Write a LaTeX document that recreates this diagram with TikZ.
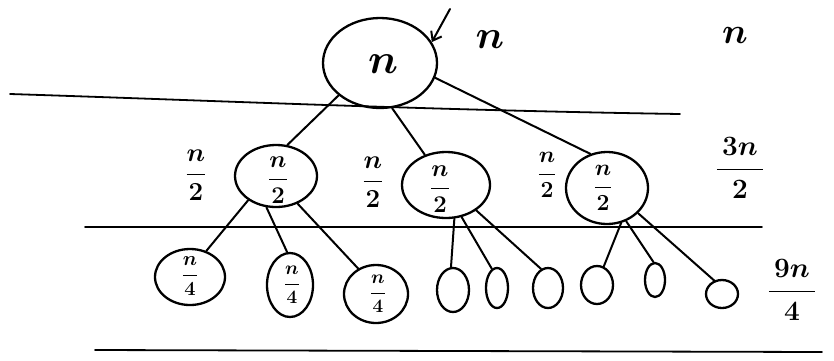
\RequirePackage{fix-cm}
\documentclass[tikz,border=0pt]{standalone}
\usepackage{amsmath,bm}
\usetikzlibrary{shapes.geometric,arrows.meta}
\tikzset{
  hand/.style={line width=2.3pt, line cap=round, line join=round},
  blob/.style={draw, ellipse, hand, inner sep=0pt},
  lbl/.style={inner sep=0pt},
  link/.style={line width=2pt, line cap=round},
  rule/.style={line width=1.8pt, line cap=round}
}
\newcommand{\bign}[1]{\fontsize{#1}{#1}\selectfont$\bm{n}$}
\newcommand{\hfr}[3]{\fontsize{#1}{#1}\selectfont$\displaystyle\bm{\frac{#2}{#3}}$}
\begin{document}
\begin{tikzpicture}[x=1pt,y=-1pt]
\useasboundingbox (0,0) rectangle (834,360);
% level rules
\draw[rule] (10,94) .. controls (200,100) and (420,110) .. (680,114);
\draw[rule] (85,227) -- (762,227);
\draw[rule] (95,350) -- (822,352);
% root
\node[blob, minimum width=114pt, minimum height=90pt] (root) at (380,63) {};
\node[lbl] (rootlbl) at (383,64) {\bign{42}};
\coordinate (tail) at (450,9);
\draw[link, -{Straight Barb[length=8pt,width=12pt]}] (tail) -- (root.22);
\node[lbl] (cost0) at (490,40) {\bign{40}};
\node[lbl] (sum0) at (735,35) {\bign{36}};
% level 2
\node[blob, minimum width=82pt, minimum height=62pt] (A) at (276,176) {};
\node[blob, minimum width=88pt, minimum height=66pt] (B) at (446,185) {};
\node[blob, minimum width=82pt, minimum height=72pt] (C) at (607,188) {};
\node[lbl] (Alb) at (278,180) {\hfr{24}{n}{2}};
\node[lbl] (Blb) at (440,189) {\hfr{24}{n}{2}};
\node[lbl] (Clb) at (603,188) {\hfr{23}{n}{2}};
\node[lbl] (Acost) at (196,175) {\hfr{26}{n}{2}};
\node[lbl] (Bcost) at (373,182) {\hfr{26}{n}{2}};
\node[lbl] (Ccost) at (547,175) {\hfr{23}{n}{2}};
\node[lbl] (sum1) at (740,168) {\hfr{28}{\,3n\,}{2}};
\draw[link] (root.218) -- (A.70);
\draw[link] (root.285) -- (B.125);
\draw[link] (root.345) -- (C.116);
% level 3
\node[blob, minimum width=70pt, minimum height=56pt] (c1) at (190,277) {};
\node[blob, minimum width=46pt, minimum height=64pt] (c2) at (290,285) {};
\node[blob, minimum width=64pt, minimum height=58pt] (c3) at (376,294) {};
\node[blob, minimum width=32pt, minimum height=44pt] (c4) at (453,290) {};
\node[blob, minimum width=22pt, minimum height=40pt] (c5) at (497,288) {};
\node[blob, minimum width=30pt, minimum height=40pt] (c6) at (548,288) {};
\node[blob, minimum width=32pt, minimum height=38pt] (c7) at (597,285) {};
\node[blob, minimum width=20pt, minimum height=34pt] (c8) at (655,280) {};
\node[blob, minimum width=32pt, minimum height=28pt] (c9) at (722,294) {};
\node[lbl] (c1lb) at (190,276) {\hfr{20}{n}{4}};
\node[lbl] (c2lb) at (292,285) {\hfr{19}{n}{4}};
\node[lbl] (c3lb) at (378,294) {\hfr{19}{n}{4}};
\node[lbl] (sum2) at (792,290) {\hfr{28}{\,9n\,}{4}};
\draw[link] (A.221) -- (c1.58);
\draw[link] (A.253) -- (c2.95);
\draw[link] (A.308) -- (c3.125);
\draw[link] (B.284) -- (c4.95);
\draw[link] (B.296) -- (c5.105);
\draw[link] (B.320) -- (c6.110);
\draw[link] (C.292) -- (c7.70);
\draw[link] (C.300) -- (c8.95);
\draw[link] (C.321) -- (c9.120);
\end{tikzpicture}
\end{document}
